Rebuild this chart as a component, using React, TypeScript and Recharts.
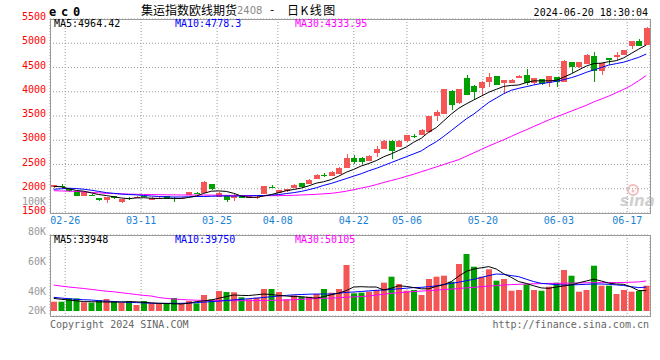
import React from 'react';
import {
  ComposedChart,
  Bar,
  Line,
  XAxis,
  YAxis,
  CartesianGrid,
  Cell,
} from 'recharts';

// trading days shown (02-22 .. 06-20)
const dates = [
  '02-22', '02-23', '02-26', '02-27', '02-28', '02-29', '03-01', '03-04', '03-05', '03-06',
  '03-07', '03-08', '03-11', '03-12', '03-13', '03-14', '03-15', '03-18', '03-19', '03-20',
  '03-21', '03-22', '03-25', '03-26', '03-27', '03-28', '03-29', '04-01', '04-02', '04-03',
  '04-08', '04-09', '04-10', '04-11', '04-12', '04-15', '04-16', '04-17', '04-18', '04-19',
  '04-22', '04-23', '04-24', '04-25', '04-26', '04-29', '04-30', '05-06', '05-07', '05-08',
  '05-09', '05-10', '05-13', '05-14', '05-15', '05-16', '05-17', '05-20', '05-21', '05-22',
  '05-23', '05-24', '05-27', '05-28', '05-29', '05-30', '05-31', '06-03', '06-04', '06-05',
  '06-06', '06-07', '06-11', '06-12', '06-13', '06-14', '06-17', '06-18', '06-19', '06-20',
];

const opens = [
  2035, 2062, 2000, 1945, 1860, 1880, 1808, 1770, 1850, 1725,
  1805, 1815, 1845, 1770, 1790, 1845, 1800, 1790, 1870, 1912,
  1910, 2100, 1840, 1875, 1815, 1845, 1805, 1825, 1900, 2045,
  1910, 1950, 2015, 2110, 2100, 2200, 2285, 2270, 2310, 2430,
  2640, 2640, 2565, 2735, 2820, 2990, 2870, 2975, 3095, 3110,
  3160, 3490, 3545, 4025, 3765, 4280, 4120, 4075, 4210, 4325,
  4175, 4190, 4280, 4350, 4190, 4260, 4175, 4300, 4210, 4610,
  4505, 4570, 4740, 4435, 4690, 4710, 4760, 4950, 5045, 4960,
];
const closes = [
  2070, 2055, 1945, 1860, 1930, 1855, 1765, 1825, 1815, 1790,
  1800, 1840, 1840, 1815, 1800, 1790, 1795, 1815, 1925, 1905,
  2130, 1985, 1915, 1770, 1845, 1810, 1845, 1835, 2050, 2040,
  1965, 1990, 2080, 2040, 2185, 2290, 2280, 2350, 2430, 2640,
  2560, 2545, 2680, 2820, 2990, 2775, 2990, 3110, 3085, 3215,
  3500, 3590, 4050, 3720, 4050, 3935, 4005, 4210, 4300, 4140,
  4245, 4245, 4325, 4175, 4280, 4160, 4325, 4210, 4640, 4505,
  4610, 4760, 4435, 4590, 4655, 4760, 4860, 5045, 4945, 5320,
];
const highs = [
  2085, 2100, 2010, 1950, 1935, 1890, 1815, 1830, 1860, 1795,
  1835, 1850, 1870, 1820, 1825, 1850, 1820, 1820, 1935, 1935,
  2150, 2105, 1925, 1880, 1895, 1850, 1850, 1860, 2060, 2080,
  1975, 2000, 2090, 2120, 2195, 2300, 2320, 2360, 2440, 2720,
  2690, 2650, 2690, 2880, 3000, 3000, 3000, 3115, 3130, 3230,
  3510, 3620, 4060, 4035, 4060, 4345, 4130, 4215, 4395, 4330,
  4250, 4255, 4345, 4465, 4290, 4270, 4335, 4310, 4650, 4615,
  4615, 4770, 4820, 4600, 4700, 4820, 4865, 5050, 5090, 5330,
];
const lows = [
  2025, 2015, 1935, 1850, 1855, 1850, 1745, 1715, 1805, 1715,
  1780, 1810, 1820, 1765, 1780, 1785, 1720, 1785, 1865, 1890,
  1905, 1980, 1830, 1745, 1760, 1800, 1800, 1805, 1895, 2010,
  1905, 1945, 2010, 2030, 2095, 2195, 2245, 2265, 2300, 2425,
  2500, 2500, 2560, 2660, 2815, 2610, 2860, 2970, 3050, 3100,
  3150, 3385, 3540, 3625, 3760, 3930, 3830, 3900, 4105, 4135,
  3970, 4185, 4275, 4140, 4140, 4155, 4105, 4105, 4205, 4395,
  4500, 4565, 4210, 4345, 4555, 4655, 4755, 4890, 4940, 4955,
];
const volumes = [
  15500, 15500, 21000, 21000, 14500, 14000, 18300, 20000, 16700, 14000,
  16700, 10000, 16700, 12800, 12800, 12800, 21700, 12800, 16700, 12800,
  26700, 19500, 33300, 31700, 31200, 22800, 19500, 22200, 36700, 36700,
  31700, 19500, 26200, 23800, 23800, 28300, 36700, 30500, 36700, 76700,
  29500, 30500, 32200, 35000, 47200, 57200, 45000, 33800, 35000, 26700,
  53300, 57200, 58800, 48800, 78300, 95000, 73800, 57200, 69500, 50500,
  53300, 33800, 35000, 44500, 35000, 33800, 40500, 47200, 68300, 58800,
  32200, 35000, 75500, 42200, 42200, 28300, 35000, 32200, 33300, 42200,
];

// moving averages as drawn on the chart
const ma5 = [
  2050, 2040, 2000, 1965, 1950, 1915, 1880, 1860, 1835, 1810,
  1795, 1810, 1815, 1805, 1800, 1805, 1800, 1800, 1820, 1850,
  1905, 1950, 1955, 1945, 1905, 1850, 1820, 1825, 1850, 1880,
  1920, 1960, 1985, 2015, 2060, 2115, 2145, 2190, 2260, 2340,
  2400, 2470, 2520, 2580, 2660, 2720, 2790, 2860, 2960, 3040,
  3170, 3260, 3400, 3540, 3660, 3750, 3830, 3910, 3990, 4050,
  4110, 4130, 4140, 4190, 4225, 4225, 4225, 4235, 4300, 4370,
  4450, 4530, 4580, 4590, 4620, 4640, 4700, 4790, 4880, 4964,
];
const ma10 = [
  1990, 2000, 2010, 2005, 1990, 1970, 1945, 1920, 1905, 1890,
  1880, 1875, 1860, 1850, 1840, 1835, 1830, 1830, 1835, 1840,
  1840, 1845, 1850, 1850, 1850, 1850, 1855, 1860, 1860, 1870,
  1880, 1900, 1920, 1945, 1980, 2020, 2070, 2110, 2160, 2210,
  2260, 2310, 2370, 2420, 2480, 2540, 2600, 2660, 2720, 2780,
  2880, 2970, 3080, 3200, 3320, 3440, 3540, 3660, 3780, 3870,
  3960, 4030, 4070, 4105, 4140, 4170, 4190, 4215, 4250, 4290,
  4340, 4400, 4450, 4500, 4550, 4580, 4610, 4660, 4710, 4778,
];
const ma30 = [
  1960, 1955, 1950, 1945, 1935, 1925, 1915, 1905, 1900, 1895,
  1890, 1885, 1882, 1880, 1878, 1875, 1873, 1872, 1870, 1870,
  1870, 1868, 1866, 1864, 1862, 1860, 1858, 1857, 1856, 1857,
  1858, 1860, 1865, 1872, 1878, 1885, 1895, 1905, 1925, 1950,
  1980, 2015, 2045, 2085, 2130, 2170, 2210, 2255, 2300, 2350,
  2400, 2450, 2500, 2550, 2600, 2670, 2740, 2810, 2880, 2945,
  3010, 3080, 3150, 3215, 3285, 3350, 3420, 3480, 3540, 3600,
  3660, 3720, 3790, 3850, 3910, 3980, 4050, 4130, 4230, 4334,
];
const vma5 = [
  21000, 19500, 18300, 17000, 15600, 15500, 15200, 15000, 14800, 15000,
  15500, 15300, 14500, 13500, 12800, 12500, 12000, 11700, 13000, 15600,
  17000, 18300, 21200, 24000, 26700, 26000, 25800, 27000, 28300, 27500,
  26000, 25000, 24000, 23900, 22500, 21500, 24000, 27000, 30000, 34000,
  40000, 40500, 40000, 40000, 35000, 38000, 42000, 41000, 39000, 37000,
  37000, 41000, 44000, 49000, 58000, 66000, 70000, 72000, 74000, 70000,
  62000, 56000, 49000, 46000, 42000, 38500, 37800, 40000, 41700, 43500,
  47000, 50000, 53000, 50000, 46500, 45000, 44500, 40000, 34000, 33948,
];
const vma10 = [
  22800, 21500, 20500, 19400, 18800, 18300, 17200, 16500, 15800, 15000,
  14400, 14000, 13500, 13000, 12800, 12800, 12800, 12800, 13200, 14000,
  14800, 15600, 16500, 17500, 18500, 19400, 20500, 21500, 22500, 23900,
  25000, 26000, 27000, 27500, 28000, 28300, 28300, 28300, 29500, 31000,
  31700, 32500, 33500, 34500, 35000, 36000, 37000, 38000, 39000, 39400,
  40500, 42000, 44000, 46100, 48000, 50500, 52800, 56000, 59000, 61700,
  61000, 59000, 57200, 53000, 49000, 46100, 45000, 44000, 43300, 43500,
  44000, 44500, 45000, 45000, 44400, 43500, 42500, 40500, 39000, 39750,
];
const vma30 = [
  43300, 41500, 40000, 38800, 37500, 36000, 34500, 33000, 32000, 30500,
  29000, 27500, 26000, 25000, 22500, 21000, 20000, 19200, 18500, 18000,
  17500, 17200, 17200, 17200, 17200, 17200, 17300, 17400, 17500, 17800,
  18000, 18300, 18800, 19500, 20200, 20800, 21100, 21500, 22000, 23000,
  23500, 24000, 25000, 26500, 28000, 29500, 30500, 31500, 32500, 33200,
  33900, 34800, 35800, 36500, 37500, 38500, 39500, 40500, 41500, 42500,
  43300, 44000, 44500, 45000, 45300, 45600, 46000, 46100, 46300, 46500,
  46800, 47000, 47200, 47300, 47400, 47500, 47600, 48000, 48500, 50105,
];

const priceTicks = [1500, 2000, 2500, 3000, 3500, 4000, 4500, 5000, 5500];
const dateTicks = [2, 12, 22, 30, 40, 47, 57, 67, 76];
const volGridRows = [0, 1, 2, 3, 4];
const volLabels = ['100K', '80K', '60K', '40K', '20K'];
const priceMaText = ['MA5:4964.42', 'MA10:4778.3', 'MA30:4333.95'];
const volMaText = ['MA5:33948', 'MA10:39750', 'MA30:50105'];

const MONO = '"DejaVu Sans Mono", monospace';
const CJK = '"Noto Sans CJK SC", sans-serif';
const RED = '#f45555';
const GREEN = '#00a000';
const MA_COLORS = ['#000000', '#0000ff', '#ff00ff'];
const GRID = '#999999';
const BORDER = '#999999';
const LAST = dates.length - 1;

const rows = dates.map((date, i) => ({
  date,
  idx: i,
  open: opens[i],
  close: closes[i],
  high: highs[i],
  low: lows[i],
  vol: volumes[i],
  ma5: ma5[i],
  ma10: ma10[i],
  ma30: ma30[i],
  vma5: vma5[i],
  vma10: vma10[i],
  vma30: vma30[i],
}));

const Candle = (props: any) => {
  const { x, y, width, height, payload } = props;
  if (x == null || y == null) return null;
  const { open, close, high, low } = payload;
  const color = close >= open ? RED : GREEN;
  const top = Math.min(y, y + height);
  const h = Math.abs(height);
  const span = high - low || 1;
  const py = (v: number) => top + ((high - v) / span) * h;
  const left = Math.round(x);
  const w = Math.round(width);
  const bTop = Math.round(py(Math.max(open, close)));
  const bBot = Math.round(py(Math.min(open, close)));
  return (
    <g>
      <rect x={left + Math.floor(w / 2)} y={Math.round(top)} width={1} height={Math.max(1, Math.round(h))} fill={color} />
      <rect x={left} y={bTop} width={w} height={Math.max(1, bBot - bTop)} fill={color} />
    </g>
  );
};

const PriceTick = (props: any) => {
  const { x, y, payload } = props;
  return (
    <text x={x} y={y + 1} textAnchor="end" fill="#ff0000" fontSize={10} fontFamily={MONO}>
      {payload.value}
    </text>
  );
};

const paneBox = (top: number, height: number): React.CSSProperties => ({
  position: 'absolute',
  left: 50,
  top,
  width: 601,
  height,
  boxSizing: 'border-box',
  border: `1px solid ${BORDER}`,
  pointerEvents: 'none',
});

const App: React.FC = () => {
  return (
    <div style={{ position: 'absolute', left: 0, top: 0, width: 660, height: 360, background: '#fff' }}>
      <div style={{ position: 'absolute', left: 0, top: 0 }}>
        <ComposedChart width={660} height={230} data={rows} margin={{ top: 19, right: 10, bottom: 0, left: 0 }}>
          <CartesianGrid stroke={GRID} strokeDasharray="1 2" />
          <XAxis xAxisId="band" dataKey="date" hide />
          <XAxis
            dataKey="idx"
            type="number"
            domain={[0, LAST]}
            ticks={dateTicks}
            interval={0}
            tickFormatter={(v) => dates[v]}
            height={17}
            axisLine={false}
            tickLine={false}
            tickSize={0}
            tickMargin={4}
            tick={{ fill: '#1a82d4', fontSize: 10, fontFamily: MONO }}
          />
          <YAxis
            domain={[1500, 5500]}
            ticks={priceTicks}
            interval={0}
            width={50}
            axisLine={false}
            tickLine={false}
            tickSize={0}
            tickMargin={4}
            tick={<PriceTick />}
          />
          <Bar
            xAxisId="band"
            dataKey={(d: any) => [d.low, d.high]}
            barSize={6}
            shape={<Candle />}
            isAnimationActive={false}
          />
          <Line xAxisId="band" dataKey="ma30" stroke={MA_COLORS[2]} dot={false} strokeWidth={1} isAnimationActive={false} />
          <Line xAxisId="band" dataKey="ma10" stroke={MA_COLORS[1]} dot={false} strokeWidth={1} isAnimationActive={false} />
          <Line xAxisId="band" dataKey="ma5" stroke={MA_COLORS[0]} dot={false} strokeWidth={1} isAnimationActive={false} />
        </ComposedChart>
      </div>
      <div style={paneBox(19, 195)} />

      <div style={{ position: 'absolute', left: 0, top: 230 }}>
        <ComposedChart width={660} height={100} data={rows} margin={{ top: 5, right: 10, bottom: 14, left: 50 }}>
          <CartesianGrid stroke={GRID} strokeDasharray="1 2" />
          <XAxis xAxisId="band" dataKey="date" hide />
          <XAxis dataKey="idx" type="number" domain={[0, LAST]} ticks={dateTicks} interval={0} hide />
          <YAxis domain={[0, 4]} ticks={volGridRows} interval={0} hide />
          <YAxis yAxisId="vol" domain={[-8333, 126667]} allowDataOverflow hide />
          <Bar xAxisId="band" yAxisId="vol" dataKey="vol" barSize={6} isAnimationActive={false}>
            {rows.map((r, i) => (
              <Cell key={i} fill={r.close >= r.open ? RED : GREEN} />
            ))}
          </Bar>
          <Line xAxisId="band" yAxisId="vol" dataKey="vma30" stroke={MA_COLORS[2]} dot={false} strokeWidth={1} isAnimationActive={false} />
          <Line xAxisId="band" yAxisId="vol" dataKey="vma10" stroke={MA_COLORS[1]} dot={false} strokeWidth={1} isAnimationActive={false} />
          <Line xAxisId="band" yAxisId="vol" dataKey="vma5" stroke={MA_COLORS[0]} dot={false} strokeWidth={1} isAnimationActive={false} />
        </ComposedChart>
      </div>
      <div style={paneBox(235, 82)} />

      <svg width={660} height={360} style={{ position: 'absolute', left: 0, top: 0, pointerEvents: 'none' }}>
        <text x={49} y={16} fontFamily={MONO} fontWeight="bold" fontSize={12} letterSpacing={4.8} fill="#000">ec0</text>
        <text x={141} y={15} fontFamily={CJK} fontSize={12} fill="#000">集运指数欧线期货</text>
        <text x={237} y={14} fontFamily='"DejaVu Sans", sans-serif' fontSize={10} fill="#888">2408</text>
        <text x={270} y={14} fontFamily={CJK} fontSize={12} fill="#000">-</text>
        <text x={287} y={15} fontFamily={CJK} fontSize={12} fill="#000" letterSpacing={1.5}>日K线图</text>
        <text x={648} y={16} textAnchor="end" fontFamily={MONO} fontSize={10} fill="#000">2024-06-20 18:30:04</text>

        {priceMaText.map((t, i) => (
          <text key={t} x={[54, 175, 295][i]} y={27} fontFamily={MONO} fontSize={10} fill={MA_COLORS[i]}>{t}</text>
        ))}
        {volMaText.map((t, i) => (
          <text key={t} x={[54, 175, 295][i]} y={243} fontFamily={MONO} fontSize={10} fill={MA_COLORS[i]}>{t}</text>
        ))}
        {volLabels.map((t, i) => (
          <text key={t} x={46} y={[205, 235, 265, 295, 314][i]} textAnchor="end" fontFamily={MONO} fontSize={10} fill="#999">{t}</text>
        ))}

        <g opacity={0.55}>
          <circle cx={633} cy={190} r={5} fill="none" stroke="#e88" strokeWidth={2} />
          <circle cx={633} cy={191} r={1.5} fill="#e88" />
          <text x={620} y={206} fontFamily='"DejaVu Sans", sans-serif' fontStyle="italic" fontWeight="bold" fontSize={15} fill="#aaa">sina</text>
        </g>

        <text x={50} y={328} fontFamily={MONO} fontSize={10} fill="#666">Copyright 2024 SINA.COM</text>
        <text x={649} y={328} textAnchor="end" fontFamily={MONO} fontSize={10} fill="#666">http://finance.sina.com.cn</text>
      </svg>
    </div>
  );
};

export default App;
